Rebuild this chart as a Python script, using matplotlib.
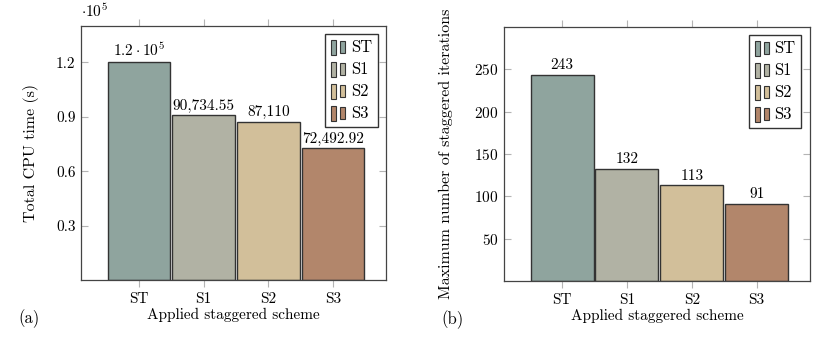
import matplotlib.pyplot as plt
from matplotlib.legend_handler import HandlerBase
from matplotlib.patches import Rectangle
from matplotlib.ticker import FuncFormatter

plt.rcParams["font.family"] = "cmr10"
plt.rcParams["mathtext.fontset"] = "cm"
plt.rcParams["axes.formatter.use_mathtext"] = True

SCHEMES = ["ST", "S1", "S2", "S3"]
COLORS = ["#8fa49e", "#b1b2a4", "#d2bf9a", "#b2866b"]

CPU_TIME = [1.2e5, 90734.55, 87110, 72492.92]
CPU_LABELS = [r"$1.2\cdot10^{5}$", "90,734.55", "87,110", "72,492.92"]
CPU_TICKS = [0.3e5, 0.6e5, 0.9e5, 1.2e5]

ITERATIONS = [243, 132, 113, 91]
ITER_TICKS = [50, 100, 150, 200, 250]

EDGE = "#333333"
TICK_GRAY = "#b4b4b4"
FS = 11


class TwoBarHandler(HandlerBase):
    # pgfplots-style ybar legend: two small bars
    def create_artists(self, legend, orig_handle, xdescent, ydescent,
                       width, height, fontsize, trans):
        fc = orig_handle.get_facecolor()
        w = width * 0.3
        r1 = Rectangle((-xdescent, -ydescent - 0.2 * height), w, height * 1.3,
                       facecolor=fc, edgecolor=EDGE, linewidth=0.8, transform=trans)
        r2 = Rectangle((-xdescent + width * 0.55, -ydescent - 0.05 * height), w, height * 1.0,
                       facecolor=fc, edgecolor=EDGE, linewidth=0.8, transform=trans)
        return [r1, r2]


def draw_panel(ax, values, labels, yticks, ylim, ylabel, tag, ylabelpad, fmt=None):
    x = list(range(len(SCHEMES)))
    bars = ax.bar(x, values, width=0.97, color=COLORS, edgecolor=EDGE,
                  linewidth=1.0, zorder=2)
    for b, lab in zip(bars, labels):
        ax.annotate(lab, (b.get_x() + b.get_width() / 2, b.get_height()),
                    xytext=(0, 2), textcoords="offset points",
                    ha="center", va="bottom", fontsize=FS)

    ax.set_xlim(-0.895, 3.82)
    ax.set_ylim(*ylim)
    ax.set_xticks(x)
    ax.set_xticklabels(SCHEMES, fontsize=FS)
    ax.set_yticks(yticks)
    if fmt is not None:
        ax.yaxis.set_major_formatter(fmt)
    ax.tick_params(axis="x", direction="out", top=True, length=5,
                   color=TICK_GRAY, labelsize=FS, pad=4)
    ax.tick_params(axis="y", direction="in", right=True, length=5,
                   color=TICK_GRAY, labelsize=FS, pad=4)
    for sp in ax.spines.values():
        sp.set_edgecolor("#444444")
        sp.set_linewidth(0.9)

    ax.set_xlabel("Applied staggered scheme", fontsize=FS, labelpad=1)
    ax.set_ylabel(ylabel, fontsize=FS + 0.5, labelpad=ylabelpad)

    handles = [Rectangle((0, 0), 1, 1, facecolor=c, edgecolor=EDGE) for c in COLORS]
    ax.legend(handles, SCHEMES, loc="upper right", fontsize=FS + 1,
              handler_map={Rectangle: TwoBarHandler()},
              handlelength=1.0, handletextpad=0.2, labelspacing=0.4,
              borderpad=0.35, borderaxespad=0.5, fancybox=False,
              edgecolor="#333333", framealpha=1)

    ax.text(-0.205, -0.152, tag, transform=ax.transAxes, fontsize=FS + 1,
            ha="left", va="center")


fig = plt.figure(figsize=(8.31, 3.37), dpi=100)
ax_a = fig.add_axes([0.0975, 0.169, 0.367, 0.754])
ax_b = fig.add_axes([0.6065, 0.166, 0.368, 0.754])

draw_panel(ax_a, CPU_TIME, CPU_LABELS, CPU_TICKS, (0, 1.4e5),
           "Total CPU time (s)", "(a)", 12,
           fmt=FuncFormatter(lambda v, p: f"{v / 1e5:.1f}"))
ax_a.text(0.0, 1.025, r"$\cdot10^{5}$", transform=ax_a.transAxes,
          fontsize=FS, ha="left", va="bottom")

draw_panel(ax_b, ITERATIONS, [str(v) for v in ITERATIONS], ITER_TICKS, (0, 300),
           "Maximum number of staggered iterations", "(b)", 15)

fig.savefig("out.png", dpi=100, facecolor="white")
